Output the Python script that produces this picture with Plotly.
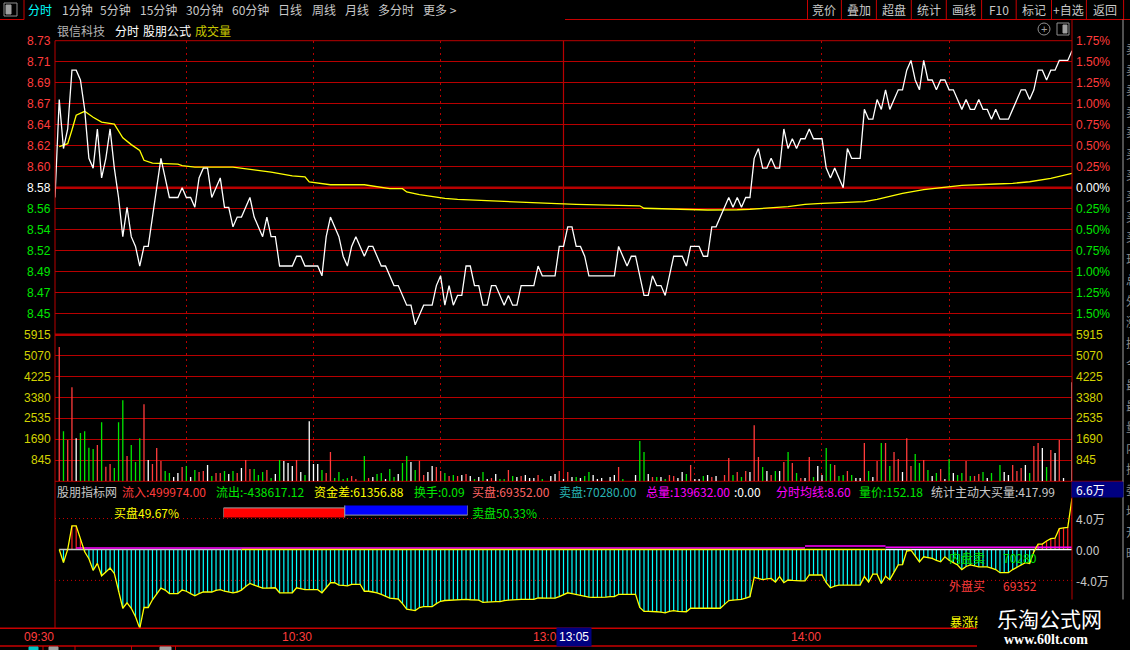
import plotly.graph_objects as go

W, H = 1130, 650
FONT = "Liberation Sans, Noto Sans CJK SC, sans-serif"
CJK = "Noto Sans CJK SC, Liberation Sans, sans-serif"
GRID = "#b80000"
RED, GREEN, WHITE, YELLOW = "#ff3c3c", "#00e600", "#ffffff", "#ffff00"
GRAY = "#c8c8c8"

# ---- data (minute index: 0 = 09:30 ... 240 = 15:00) ----
prev_close = 8.58
pct_steps = [1.75, 1.5, 1.25, 1.0, 0.75, 0.5, 0.25, 0.0, -0.25, -0.5, -0.75, -1.0, -1.25, -1.5]
price_labels = ["8.73", "8.71", "8.69", "8.67", "8.64", "8.62", "8.60", "8.58",
                "8.56", "8.54", "8.52", "8.49", "8.47", "8.45"]
pct_labels = ["1.75%", "1.50%", "1.25%", "1.00%", "0.75%", "0.50%", "0.25%", "0.00%",
              "0.25%", "0.50%", "0.75%", "1.00%", "1.25%", "1.50%"]

price = [8.57, 8.67, 8.62, 8.64, 8.70, 8.70, 8.69, 8.66, 8.61, 8.60,
         8.64, 8.59, 8.61, 8.64, 8.60, 8.57, 8.53, 8.56, 8.53, 8.52,
         8.50, 8.52, 8.52, 8.55, 8.58, 8.61, 8.59, 8.57, 8.57, 8.57,
         8.58, 8.57, 8.57, 8.56, 8.59, 8.60, 8.60, 8.57, 8.58, 8.59,
         8.56, 8.56, 8.54, 8.55, 8.55, 8.56, 8.57, 8.55, 8.54, 8.53,
         8.55, 8.53, 8.53, 8.50, 8.50, 8.50, 8.50, 8.51, 8.51, 8.50,
         8.50, 8.50, 8.50, 8.49, 8.53, 8.55, 8.54, 8.53, 8.51, 8.50,
         8.52, 8.53, 8.52, 8.51, 8.52, 8.52, 8.51, 8.50, 8.50, 8.49,
         8.48, 8.48, 8.47, 8.46, 8.46, 8.44, 8.45, 8.46, 8.46, 8.46,
         8.48, 8.49, 8.46, 8.48, 8.46, 8.47, 8.47, 8.50, 8.50, 8.48,
         8.48, 8.46, 8.46, 8.48, 8.48, 8.47, 8.46, 8.47, 8.46, 8.46,
         8.48, 8.48, 8.48, 8.48, 8.50, 8.49, 8.49, 8.49, 8.49, 8.52,
         8.52, 8.54, 8.54, 8.52, 8.52, 8.51, 8.49, 8.49, 8.49, 8.49,
         8.49, 8.49, 8.49, 8.52, 8.51, 8.50, 8.51, 8.51, 8.49, 8.47,
         8.47, 8.49, 8.48, 8.48, 8.47, 8.49, 8.51, 8.51, 8.51, 8.50,
         8.52, 8.52, 8.52, 8.51, 8.51, 8.54, 8.54, 8.55, 8.56, 8.57,
         8.56, 8.57, 8.56, 8.57, 8.57, 8.61, 8.62, 8.60, 8.60, 8.61,
         8.60, 8.60, 8.64, 8.62, 8.63, 8.62, 8.63, 8.63, 8.64, 8.63,
         8.63, 8.63, 8.60, 8.59, 8.60, 8.59, 8.58, 8.62, 8.61, 8.61,
         8.61, 8.66, 8.65, 8.65, 8.67, 8.66, 8.68, 8.66, 8.67, 8.68,
         8.68, 8.70, 8.71, 8.69, 8.68, 8.71, 8.69, 8.69, 8.68, 8.69,
         8.69, 8.68, 8.68, 8.67, 8.66, 8.67, 8.66, 8.66, 8.67, 8.66,
         8.66, 8.65, 8.66, 8.65, 8.65, 8.65, 8.66, 8.67, 8.68, 8.68,
         8.67, 8.68, 8.70, 8.70, 8.69, 8.70, 8.70, 8.71, 8.71, 8.71,
         8.72]

avg_idx = [1, 3, 4, 5, 7, 9, 11, 14, 16, 18, 20, 21, 23, 29, 30, 33, 42, 44, 48, 51,
           56, 59, 60, 64, 65, 73, 76, 79, 82, 83, 86, 89, 92, 95, 101, 105, 109, 117,
           123, 130, 138, 139, 145, 154, 161, 164, 173, 177, 181, 186, 191, 194, 197,
           200, 205, 209, 214, 222, 226, 230, 235, 240]
avg_price = [8.622, 8.625, 8.639, 8.654, 8.658, 8.652, 8.647, 8.645, 8.631, 8.624,
             8.618, 8.608, 8.605, 8.604, 8.6025, 8.601, 8.601, 8.600, 8.598, 8.596,
             8.592, 8.591, 8.586, 8.584, 8.583, 8.583, 8.581, 8.579, 8.579, 8.5756,
             8.573, 8.5708, 8.569, 8.568, 8.5667, 8.5665, 8.565, 8.564, 8.563, 8.562,
             8.5615, 8.559, 8.558, 8.5572, 8.5575, 8.558, 8.5606, 8.563, 8.564, 8.565,
             8.5657, 8.568, 8.5708, 8.5743, 8.578, 8.580, 8.5824, 8.5838, 8.5845,
             8.5861, 8.5896, 8.5947]

vol_ticks = [5915, 5070, 4225, 3380, 2535, 1690, 845]
vol = [0, 5417, 2024, 1662, 3795, 1742, 1944, 2024, 1352, 1300,
       1461, 2386, 588, 696, 535, 2386, 3272, 1018, 1461, 777,
       1742, 3111, 857, 696, 1340, 817, 414, 334, 173, 334,
       575, 616, 173, 455, 374, 414, 656, 213, 334, 334,
       414, 294, 414, 334, 535, 857, 495, 495, 254, 374,
       455, 133, 294, 857, 817, 736, 616, 857, 374, 254,
       2426, 696, 696, 455, 334, 1179, 133, 374, 93, 133,
       213, 93, 0, 1018, 133, 173, 294, 334, 93, 495,
       173, 294, 736, 1018, 777, 455, 829, 254, 374, 616,
       575, 414, 334, 213, 254, 213, 254, 294, 213, 93,
       173, 374, 93, 133, 294, 93, 93, 455, 213, 173,
       213, 254, 133, 133, 254, 93, 0, 213, 294, 414,
       93, 374, 173, 173, 133, 213, 374, 254, 93, 133,
       0, 173, 254, 575, 93, 0, 0, 254, 1622, 1179,
       294, 173, 173, 173, 93, 254, 213, 133, 374, 294,
       656, 93, 93, 213, 254, 173, 213, 0, 254, 938,
       254, 374, 173, 414, 374, 2265, 978, 575, 414, 254,
       414, 414, 777, 1179, 736, 334, 133, 133, 978, 173,
       616, 254, 1340, 696, 656, 213, 254, 414, 254, 133,
       133, 1541, 414, 173, 817, 1541, 1541, 616, 1179, 897,
       374, 1742, 616, 1099, 736, 857, 455, 213, 334, 495,
       93, 897, 334, 254, 334, 817, 213, 213, 294, 374,
       133, 334, 0, 656, 374, 254, 656, 414, 535, 656,
       334, 1420, 1541, 1340, 575, 1260, 1139, 1662, 133, 0,
       3996]
# r = up tick, g = down tick, w = unchanged
vol_dir = list("w" "rgrrwgggg" "rgrrgggrgg" "grwrrrggww" "rgwgrrwgrr" "gwgrwrrggg"
               "rgwgwwwrwg" "wwwgrrgggg" "rrwgrwggwg" "gwggwgrrww" "rrgrgrwrwg"
               "wgwrwggrgw" "rwwwrgwwwr" "wrwgwggwww" "wwwrgwwwgg" "wrgwgrrwwg"
               "rwwgwrwwrr" "grgrwrrgwr" "gwrgrgrwrg" "wwggrggrgw" "wrgwrgrgrr"
               "wrrggrgwgr" "wgwggrgrrg" "wgwgwwrrrw" "grrwgrwrww" "w")

# money-flow indicator, in 万
ind_ticks = [4.0, 0.0, -4.0]
ind_labels = ["4.0万", "0.00", "-4.0万"]
ind_last_label = "6.6万"
ind = [None, 0.0, -1.7, 0.0, 3.05, 3.05, 1.4, -0.3, -1.2, -2.7,
       -1.8, -3.4, -2.9, -2.4, -3.1, -5.5, -7.6, -6.9, -7.6, -8.7,
       -10.2, -7.5, -7.5, -6.5, -5.8, -5.0, -5.25, -5.7, -5.7, -5.7,
       -5.25, -5.4, -5.7, -6.0, -5.7, -5.5, -5.5, -5.5, -5.3, -5.2,
       -5.4, -5.5, -5.6, -5.5, -5.25, -4.8, -4.4, -4.6, -4.8, -5.0,
       -5.0, -5.0, -4.95, -5.6, -5.6, -5.6, -5.6, -4.95, -5.1, -5.2,
       -5.2, -5.2, -5.2, -5.6, -5.0, -4.3, -4.3, -4.6, -4.65, -4.7,
       -4.5, -4.5, -4.5, -5.4, -5.4, -5.5, -5.6, -5.8, -6.1, -6.3,
       -6.35, -6.4, -7.0, -7.7, -7.8, -7.9, -7.5, -7.4, -7.4, -7.4,
       -7.0, -6.7, -6.6, -6.55, -6.5, -6.5, -6.45, -6.45, -6.5, -6.5,
       -6.55, -6.85, -6.8, -6.75, -6.75, -6.75, -6.6, -6.55, -6.5, -6.45,
       -6.45, -6.45, -6.45, -6.45, -6.25, -6.3, -6.3, -6.3, -6.3, -6.1,
       -5.9, -5.6, -5.7, -5.8, -6.0, -6.1, -6.15, -6.2, -6.2, -6.2,
       -6.15, -6.1, -6.1, -5.8, -5.8, -5.8, -5.8, -5.8, -7.5, -8.0,
       -8.0, -8.0, -8.05, -8.1, -8.2, -8.0, -7.9, -8.0, -8.0, -8.05,
       -7.6, -7.6, -7.6, -7.6, -7.6, -7.6, -7.6, -7.6, -7.1, -6.6,
       -6.55, -6.5, -6.45, -6.3, -6.1, -3.6, -3.75, -3.9, -3.8, -3.75,
       -4.2, -3.5, -4.3, -3.95, -4.0, -4.05, -4.05, -4.05, -3.3, -3.3,
       -3.3, -3.3, -4.3, -4.95, -4.75, -4.6, -4.6, -4.6, -4.6, -4.6,
       -4.6, -3.5, -4.2, -3.2, -3.2, -4.4, -3.45, -3.9, -2.9, -2.0,
       -1.95, -0.2, -0.1, -0.8, -1.6, -0.95, -1.05, -1.15, -1.4, -1.6,
       -0.95, -1.4, -1.7, -2.0, -2.6, -2.2, -2.0, -2.15, -2.25, -2.25,
       -2.25, -2.4, -2.6, -3.0, -3.0, -3.0, -2.6, -2.3, -2.0, -1.7,
       -1.8, -0.3, 0.7, 0.7, 1.1, 1.4, 1.45, 2.7, 2.8, 2.85,
       6.6]

# reference levels drawn across the indicator panel
ref_x0 = [1, 5, 44, 177, 196, 196]
ref_x1 = [44, 177, 196, 196, 240, 240]
ref_val = [0.0, 0.2, -0.02, 0.45, 0.3, 0.0]
ref_color = ["#c8c8c8", "#ff00ff", "#ffff00", "#ff00ff", "#ff00ff", "#ffffff"]

buy_pct, sell_pct = 49.67, 50.33

grid_idx = [31, 61, 91, 151, 181, 211]
lunch_idx = 120
time_idx = [0, 61, 120, 181]
time_labels = ["09:30", "10:30", "13:00", "14:00"]

header = [("股朋指标网", GRAY), ("流入:499974.00", RED), ("流出:-438617.12", GREEN),
          ("资金差:61356.88", YELLOW), ("换手:0.09", GREEN), ("买盘:69352.00", "#ff6464"),
          ("卖盘:70280.00", "#28b4b4"), ("总量:139632.00", "#ff00ff"), (":0.00", WHITE),
          ("分时均线:8.60", "#ff00ff"), ("量价:152.18", GREEN), ("统计主动大买量:417.99", GRAY)]
header_x = [57, 122, 216, 314, 414, 472, 559, 646, 734, 776, 859, 931]

menu_left = ["分时", "1分钟", "5分钟", "15分钟", "30分钟", "60分钟", "日线", "周线", "月线", "多分时", "更多 >"]
menu_left_x = [28, 62, 100, 140, 186, 232, 278, 312, 345, 378, 423]
menu_right = ["竞价", "叠加", "超盘", "统计", "画线", "F10", "标记", "+自选", "返回"]
menu_sep = [807.5, 841.4, 876.4, 911.3, 946.3, 981.6, 1016.2, 1051.5, 1086.4, 1123.6]

# ---- figure ----
def px(x):
    return x / W


def py(y):
    return 1 - y / H


XD = [px(55), px(1072)]
lo, hi = prev_close * (1 - 0.0175), prev_close * (1 + 0.0175)
price_levels = [prev_close * (1 + p / 100) for p in pct_steps]
IND_RANGE = [-10.19, 8.81]

fig = go.Figure()
minutes = list(range(len(price)))

fig.add_trace(go.Scatter(x=avg_idx, y=avg_price, mode="lines",
                         line=dict(color=YELLOW, width=1.3), xaxis="x", yaxis="y"))
fig.add_trace(go.Scatter(x=minutes, y=price, mode="lines",
                         line=dict(color=WHITE, width=1.3), xaxis="x", yaxis="y"))

for side, color in (("r", RED), ("g", GREEN), ("w", WHITE)):
    xs, ys = [], []
    for i, (v, s) in enumerate(zip(vol, vol_dir)):
        if s == side and v > 0:
            xs += [i, i, None]
            ys += [0, v, None]
    fig.add_trace(go.Scatter(x=xs, y=ys, mode="lines", line=dict(color=color, width=1.3),
                             xaxis="x2", yaxis="y2"))

cx, cy, rx, ry = [], [], [], []
for i, v in enumerate(ind):
    if v is None:
        continue
    if v < 0:
        cx += [i, i, None]
        cy += [0, v, None]
    elif v > 0:
        rx += [i, i, None]
        ry += [0, v, None]
fig.add_trace(go.Scatter(x=cx, y=cy, mode="lines", line=dict(color="#00ffff", width=1.2),
                         xaxis="x3", yaxis="y3"))
fig.add_trace(go.Scatter(x=rx, y=ry, mode="lines", line=dict(color="#ff2020", width=1.2),
                         xaxis="x3", yaxis="y3"))
for a, b, v, c in zip(ref_x0, ref_x1, ref_val, ref_color):
    fig.add_trace(go.Scatter(x=[a, b], y=[v, v], mode="lines", line=dict(color=c, width=1.5),
                             xaxis="x3", yaxis="y3"))
fig.add_trace(go.Scatter(x=minutes[1:], y=ind[1:], mode="lines",
                         line=dict(color=YELLOW, width=1.3), xaxis="x3", yaxis="y3"))

fig.add_trace(go.Bar(x=[buy_pct], y=[0], base=[0], orientation="h", width=1,
                     marker=dict(color="#ff0000", line=dict(color="#a0a0a0", width=1)),
                     xaxis="x4", yaxis="y4"))
fig.add_trace(go.Bar(x=[sell_pct], y=[0], base=[buy_pct], orientation="h", width=1,
                     marker=dict(color="#0000ff", line=dict(color="#a0a0a0", width=1)),
                     xaxis="x4", yaxis="y4"))

# ---- shapes ----
shapes = []


def seg(x0, y0, x1, y1, color=GRID, width=1, dash=None, layer="below"):
    shapes.append(dict(type="line", xref="paper", yref="paper", x0=px(x0), x1=px(x1),
                       y0=py(y0), y1=py(y1), layer=layer,
                       line=dict(color=color, width=width, dash=dash)))


def box(x0, y0, x1, y1, fill, line=None, layer="above"):
    shapes.append(dict(type="rect", xref="paper", yref="paper", x0=px(x0), x1=px(x1),
                       y0=py(y1), y1=py(y0), layer=layer, fillcolor=fill,
                       line=dict(color=line or fill, width=1)))


# toolbar
seg(0, 19.5, 24, 19.5, "#c80000", layer="above")
seg(565, 19.5, 1130, 19.5, "#c80000", layer="above")
seg(24, 0, 24, 19.5, "#c80000", layer="above")
for xs_ in menu_sep:
    seg(xs_, 0, xs_, 19.5, "#c80000", layer="above")
box(4, 3, 17, 16, "rgba(0,0,0,0)", "#909090")
box(6, 5, 11, 14, "#a0a0a0")
shapes.append(dict(type="circle", xref="paper", yref="paper", x0=px(1038), x1=px(1050),
                   y0=py(35), y1=py(23), line=dict(color="#909090", width=1)))
box(1057, 23, 1069, 35, "rgba(0,0,0,0)", "#909090")
box(1063, 25, 1067, 33, "#a0a0a0")

# panel frames
seg(55, 40.7, 1072, 40.7)
seg(55, 334.7, 1072, 334.7, width=2.5)
seg(55, 481.3, 1123, 481.3)
seg(55, 40.7, 55, 628.3, layer="above")
seg(1072, 19.5, 1072, 628.3, layer="above")
seg(1123, 19.5, 1123, 600, "#a0a0a0", layer="above")
seg(0, 628.3, 977, 628.3, "#c80000", width=1.5, layer="above")
seg(0, 646, 977, 646, "#c80000", width=1.5, layer="above")
shapes.append(dict(type="line", xref="paper", yref="y", x0=XD[0], x1=XD[1],
                   y0=prev_close, y1=prev_close, layer="below", line=dict(color=GRID, width=2.5)))
shapes.append(dict(type="line", xref="x", yref="paper", x0=lunch_idx, x1=lunch_idx,
                   y0=py(481.3), y1=py(40.7), layer="below", line=dict(color=GRID, width=1.2)))
for t in (ind_ticks[0], ind_ticks[2]):
    shapes.append(dict(type="line", xref="paper", yref="y3", x0=XD[0], x1=XD[1], y0=t, y1=t,
                       layer="below", line=dict(color="#c80000", width=1, dash="1px,3px")))
# last-value box on indicator scale
box(1072, 482, 1123, 497, "#000080")
# bottom tab strip
for xs_ in (43, 75, 131.5, 175.5):
    seg(xs_, 646, xs_, 650, "#c80000", layer="above")
box(29, 647, 38, 650, "#00c8c8")
box(49, 647, 58, 650, "#a0a0a0")
box(160, 647, 171, 650, "#a0a0a0")

# ---- annotations ----
ann = []


def text(t, x, y, color, size=12, anchor="left", family=FONT, **kw):
    ann.append(dict(text=t, x=px(x), y=py(y), xref="paper", yref="paper", xanchor=anchor,
                    yanchor="middle", showarrow=False,
                    font=dict(color=color, size=size, family=family), **kw))


for t, x in zip(menu_left, menu_left_x):
    text(t, x - 2, 10, "#00ffff" if t == "分时" else GRAY, size=12, family=CJK)
for i, t in enumerate(menu_right):
    mid = (menu_sep[i] + menu_sep[i + 1]) / 2
    text(t, mid, 10, GRAY, size=12, anchor="center", family=CJK)

text("银信科技", 55, 30, "#b4b4b4", family=CJK)
text("分时", 113, 30, WHITE, family=CJK)
text("股朋公式", 141, 30, WHITE, family=CJK)
text("成交量", 193, 30, "#c8c800", family=CJK)
text("+", 1044, 28.5, "#a0a0a0", size=11, anchor="center")

for lab, lev, p in zip(price_labels, price_levels, pct_steps):
    c = RED if p > 0 else (GREEN if p < 0 else WHITE)
    ann.append(dict(text=lab, x=px(53), y=lev, xref="paper", yref="y", xanchor="right",
                    yanchor="middle", showarrow=False, font=dict(color=c, size=12, family=FONT)))
for lab, lev, p in zip(pct_labels, price_levels, pct_steps):
    c = RED if p > 0 else (GREEN if p < 0 else WHITE)
    ann.append(dict(text=lab, x=px(1074), y=lev, xref="paper", yref="y", xanchor="left",
                    yanchor="middle", showarrow=False, font=dict(color=c, size=12, family=FONT)))
for v in vol_ticks:
    for xx, anc in ((53, "right"), (1074, "left")):
        ann.append(dict(text=str(v), x=px(xx), y=v, xref="paper", yref="y2", xanchor=anc,
                        yanchor="middle", showarrow=False,
                        font=dict(color="#d2d200", size=12, family=FONT)))
for v, lab in zip(ind_ticks, ind_labels):
    ann.append(dict(text=lab, x=px(1074), y=v, xref="paper", yref="y3", xanchor="left",
                    yanchor="middle", showarrow=False, font=dict(color=GRAY, size=12, family=CJK)))
text(ind_last_label, 1074, 489.5, WHITE, family=CJK)

for (t, c), x in zip(header, header_x):
    text(t, x - 2, 491, c, family=CJK)
text("买盘%.2f%%" % buy_pct, 112, 512, YELLOW, family=CJK)
text("卖盘%.2f%%" % sell_pct, 470, 512, GREEN, family=CJK)
text("内盘卖", 947, 557, GREEN, family=CJK)
text("%d" % 70280, 1001, 557, GREEN, family=CJK)
text("外盘买", 947, 585, RED, family=CJK)
text("%d" % 69352, 1001, 585, RED, family=CJK)
text("暴涨能", 948, 621.5, YELLOW, family=CJK)

for t, i in zip(time_labels, time_idx):
    ann.append(dict(text=t, x=i, y=py(637), xref="x3", yref="paper", xanchor="right",
                    yanchor="middle", xshift=1, showarrow=False,
                    font=dict(color=RED, size=12, family=FONT)))
text("13:05", 556, 637, WHITE, bgcolor="#000080", borderpad=2)

# watermark block over the corner
text(" ", 977, 625, "#000000", bgcolor="#000000", width=150, height=48)
text("乐淘公式网", 1049, 618, WHITE, size=21, anchor="center", family=CJK)
text("<b>www.60lt.com</b>", 1046, 639, WHITE, size=14, anchor="center",
     family="Liberation Serif, DejaVu Serif, serif")

side_chars = "卖卖卖卖卖买买买买买现总外涨换今最最量内振委均开昨"
for k, ch in enumerate(side_chars):
    text(ch, 1124, 48 + 21 * k, "#8c8c8c", family=CJK)

axis_common = dict(showticklabels=False, zeroline=False, showline=False, ticks="",
                   fixedrange=True)
fig.update_layout(
    width=W, height=H, margin=dict(l=0, r=0, t=0, b=0),
    paper_bgcolor="#000000", plot_bgcolor="#000000",
    showlegend=False, hovermode=False,
    xaxis=dict(domain=XD, range=[0, 240], anchor="y", tickvals=grid_idx, showgrid=True,
               gridcolor=GRID, griddash="2px,4px", gridwidth=1, **axis_common),
    yaxis=dict(domain=[py(334.7), py(40.7)], range=[lo, hi], anchor="x",
               tickvals=price_levels, showgrid=True, gridcolor=GRID, gridwidth=1.2, **axis_common),
    xaxis2=dict(domain=XD, range=[0, 240], anchor="y2", tickvals=grid_idx, showgrid=True,
                gridcolor=GRID, griddash="2px,4px", **axis_common),
    yaxis2=dict(domain=[py(481.3), py(334.7)], range=[0, 5915], anchor="x2",
                tickvals=vol_ticks[1:], showgrid=True, gridcolor=GRID, gridwidth=1.2,
                **axis_common),
    xaxis3=dict(domain=XD, range=[0, 240], anchor="y3", showgrid=False, **axis_common),
    yaxis3=dict(domain=[py(628.3), py(481.3)], range=IND_RANGE, anchor="x3", showgrid=False,
                **axis_common),
    xaxis4=dict(domain=[px(223.4), px(467.7)], range=[0, 100], anchor="y4", showgrid=False,
                **axis_common),
    yaxis4=dict(domain=[py(517.5), py(505.5)], range=[-0.5, 0.5], anchor="x4", showgrid=False,
                **axis_common),
    shapes=shapes, annotations=ann,
)

# the page body has a default 8px margin; drop it so the figure sits at the window corner
fig.write_html("out.html", config={"displayModeBar": False},
               post_script="document.body.style.margin='0px';")
